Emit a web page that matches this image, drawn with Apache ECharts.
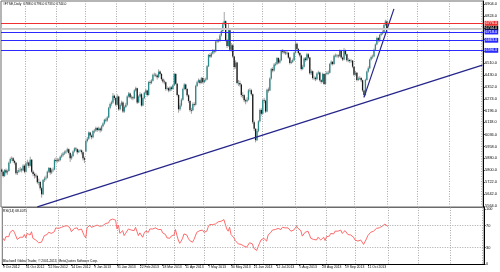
<!DOCTYPE html>
<html>
<head>
<meta charset="utf-8">
<script src="https://cdn.jsdelivr.net/npm/echarts@6/dist/echarts.min.js"></script>
<style>
html,body{margin:0;padding:0;background:#fff;}
#chart{width:500px;height:272px;}
</style>
</head>
<body>
<div id="chart"></div>
<script>
// ---- data (FTSE daily, 9 Oct 2012 - 31 Oct 2013) ----
const opens = [5805,5790,5762,5800,5785,5795,5850,5875,5880,5862,
5850,5780,5790,5800,5805,5800,5830,5790,5845,5852,
5830,5870,5790,5775,5765,5762,5720,5722,5680,5640,
5735,5745,5750,5790,5815,5785,5800,5805,5868,5862,
5870,5868,5890,5900,5912,5918,5925,5940,5915,5880,
5895,5925,5945,5940,5920,5930,5932,5920,5880,5925,
5995,6010,6050,6030,6020,6060,6062,6080,6068,6078,
6065,6092,6110,6135,6130,6150,6215,6240,6250,6295,
6280,6235,6290,6205,6235,6250,6190,6220,6235,6290,
6310,6285,6285,6278,6330,6345,6250,6290,6305,6230,
6280,6315,6330,6300,6385,6380,6395,6435,6435,6430,
6418,6455,6440,6405,6390,6385,6340,6345,6330,6350,
6340,6365,6440,6375,6300,6205,6230,6268,6340,6370,
6340,6298,6260,6200,6198,6240,6235,6360,6385,6398,
6380,6412,6385,6400,6402,6490,6565,6555,6575,6595,
6588,6655,6662,6660,6695,6725,6770,6790,6665,6625,
6730,6600,6630,6555,6485,6515,6380,6380,6370,6300,
6298,6265,6258,6268,6330,6332,6305,6118,6075,6000,
6060,6125,6200,6175,6265,6262,6190,6335,6330,6410,
6472,6462,6502,6505,6545,6515,6530,6592,6588,6582,
6578,6580,6548,6512,6520,6530,6580,6640,6605,6578,
6562,6472,6488,6542,6532,6570,6548,6445,6458,6412,
6414,6405,6442,6450,6398,6388,6440,6372,6440,6448,
6448,6505,6520,6505,6560,6562,6562,6558,6595,6548,
6535,6598,6570,6530,6532,6525,6528,6488,6435,6447,
6400,6410,6413,6398,6330,6300,6400,6455,6478,6535,
6552,6555,6600,6635,6678,6658,6698,6708,6715,6765,
6788];
const highs = [5815,5798,5808,5812,5805,5858,5885,5892,5888,5870,
5855,5802,5815,5822,5815,5840,5838,5855,5870,5858,
5890,5875,5800,5785,5780,5770,5745,5730,5690,5742,
5758,5765,5798,5822,5820,5812,5818,5878,5885,5882,
5880,5898,5912,5922,5930,5935,5950,5945,5920,5905,
5932,5952,5955,5945,5938,5940,5938,5925,5890,6002,
6022,6058,6055,6038,6068,6075,6090,6088,6090,6085,
6100,6118,6142,6148,6160,6222,6250,6262,6313,6302,
6285,6305,6295,6245,6262,6258,6230,6248,6298,6320,
6315,6298,6292,6338,6355,6348,6298,6318,6312,6288,
6322,6342,6335,6392,6398,6405,6442,6448,6445,6438,
6470,6462,6445,6415,6402,6390,6358,6352,6360,6358,
6372,6448,6445,6380,6305,6245,6278,6348,6378,6375,
6345,6305,6265,6215,6250,6252,6368,6395,6410,6405,
6420,6418,6410,6415,6498,6572,6578,6585,6605,6602,
6662,6675,6672,6705,6735,6782,6851,6795,6672,6778,
6735,6645,6638,6560,6530,6520,6400,6395,6375,6318,
6305,6275,6285,6340,6345,6340,6310,6130,6080,6075,
6132,6210,6212,6272,6280,6268,6342,6350,6418,6480,
6485,6512,6518,6552,6550,6540,6600,6605,6598,6592,
6592,6585,6555,6532,6542,6588,6665,6648,6612,6585,
6568,6500,6550,6552,6580,6578,6552,6470,6462,6428,
6422,6450,6462,6455,6405,6448,6445,6448,6458,6462,
6512,6530,6525,6568,6575,6572,6570,6602,6600,6555,
6612,6602,6575,6545,6540,6538,6532,6492,6460,6452,
6422,6425,6420,6402,6335,6408,6462,6490,6542,6562,
6568,6608,6642,6688,6685,6705,6718,6728,6772,6800,
6796];
const lows = [5775,5752,5755,5772,5770,5790,5842,5862,5850,5838,
5770,5768,5782,5790,5785,5795,5780,5785,5830,5815,
5825,5782,5760,5745,5748,5710,5700,5665,5618,5635,
5722,5732,5745,5782,5770,5775,5788,5800,5850,5850,
5855,5860,5882,5890,5902,5908,5918,5905,5855,5870,
5888,5918,5928,5905,5915,5920,5905,5865,5848,5920,
5985,6002,6018,6005,6012,6045,6055,6055,6060,6050,
6058,6085,6102,6118,6122,6145,6205,6228,6242,6265,
6225,6230,6195,6198,6225,6180,6182,6212,6228,6282,
6275,6270,6265,6272,6322,6240,6245,6282,6222,6225,
6272,6305,6288,6295,6368,6372,6390,6422,6418,6402,
6412,6430,6395,6378,6370,6328,6330,6318,6322,6328,
6335,6360,6368,6290,6182,6195,6222,6262,6332,6330,
6288,6248,6188,6175,6192,6222,6230,6352,6378,6370,
6375,6375,6378,6388,6398,6485,6545,6548,6568,6575,
6582,6645,6648,6652,6688,6718,6762,6655,6612,6620,
6590,6588,6545,6470,6475,6370,6360,6355,6285,6278,
6252,6238,6250,6262,6318,6295,6108,6060,5985,5995,
6052,6118,6162,6170,6245,6180,6185,6315,6325,6402,
6450,6455,6490,6498,6505,6508,6525,6575,6570,6565,
6568,6540,6502,6505,6512,6525,6575,6595,6568,6550,
6462,6465,6482,6520,6525,6538,6435,6432,6402,6398,
6392,6398,6435,6388,6375,6382,6365,6368,6432,6435,
6442,6498,6495,6500,6550,6548,6545,6552,6540,6525,
6530,6560,6520,6518,6512,6515,6478,6425,6428,6390,
6392,6400,6385,6320,6284,6295,6395,6448,6472,6528,
6540,6550,6595,6630,6648,6652,6690,6700,6710,6758,
6733];
const closes = [5790,5762,5800,5785,5795,5850,5875,5880,5862,5850,
5780,5790,5800,5805,5800,5830,5790,5845,5852,5830,
5870,5790,5775,5765,5762,5720,5722,5680,5640,5735,
5745,5750,5790,5815,5785,5800,5805,5868,5862,5870,
5868,5890,5900,5912,5918,5925,5940,5915,5880,5895,
5925,5945,5940,5920,5930,5932,5920,5880,5870,5995,
6010,6050,6030,6020,6060,6062,6080,6068,6078,6065,
6092,6110,6135,6130,6150,6215,6240,6250,6295,6280,
6235,6290,6205,6235,6250,6190,6220,6235,6290,6310,
6285,6285,6278,6330,6345,6250,6290,6305,6230,6280,
6315,6330,6300,6385,6380,6395,6435,6435,6430,6418,
6455,6440,6405,6390,6385,6340,6345,6330,6350,6340,
6365,6440,6375,6300,6205,6230,6268,6340,6370,6340,
6298,6260,6200,6198,6240,6235,6360,6385,6398,6380,
6412,6385,6400,6402,6490,6565,6555,6575,6595,6588,
6655,6662,6660,6695,6725,6770,6790,6665,6625,6730,
6600,6630,6555,6485,6515,6380,6380,6370,6300,6298,
6265,6258,6268,6330,6332,6305,6118,6075,6000,6060,
6125,6200,6175,6265,6262,6190,6335,6330,6410,6472,
6462,6502,6505,6545,6515,6530,6592,6588,6582,6578,
6580,6548,6512,6520,6530,6580,6640,6605,6578,6562,
6472,6488,6542,6532,6570,6548,6445,6458,6412,6414,
6405,6442,6450,6398,6388,6440,6372,6440,6448,6448,
6505,6520,6505,6560,6562,6562,6558,6595,6548,6535,
6598,6570,6530,6532,6525,6528,6488,6435,6447,6400,
6410,6413,6398,6330,6300,6400,6455,6478,6535,6552,
6555,6600,6635,6678,6658,6698,6708,6715,6765,6788,
6744];
const rsi14 = [47,43,50,48,50,58,61,62,58,56,
45,47,49,50,49,54,48,56,57,53,
59,47,45,44,44,39,40,40,37,52,
53,54,58,61,56,58,59,66,65,65,
65,67,68,69,69,70,71,66,59,61,
65,67,66,62,63,64,61,52,48,66,
68,71,67,65,69,69,71,68,69,66,
70,72,74,73,75,80,81,82,84,80,
64,71,56,59,61,52,56,58,64,66,
62,62,61,67,68,52,57,59,49,56,
60,62,58,64,63,64,66,66,65,63,
66,63,57,55,54,48,49,47,51,49,
53,63,53,44,38,42,47,55,58,53,
47,43,40,40,45,44,58,60,61,58,
62,58,60,60,68,72,71,72,74,73,
76,77,76,78,79,81,80,64,60,67,
54,56,48,43,46,37,37,36,33,33,
31,31,33,39,39,37,29,27,25,32,
38,44,42,47,47,42,53,53,58,62,
61,63,63,65,62,63,67,67,66,66,
66,63,60,61,62,65,69,65,62,61,
51,53,58,57,60,57,47,49,45,45,
44,49,50,44,43,49,43,50,51,51,
56,57,55,60,60,60,59,62,56,55,
61,58,54,54,53,53,49,44,46,42,
43,44,42,36,33,46,52,54,58,60,
60,63,65,68,66,69,69,70,73,74,
68.41];

const timeLabels = ['9 Oct 2012','31 Oct 2012','22 Nov 2012','14 Dec 2012','9 Jan 2013','31 Jan 2013','22 Feb 2013','18 Mar 2013','11 Apr 2013','7 May 2013','30 May 2013','21 Jun 2013','12 Jul 2013','5 Aug 2013','28 Aug 2013','19 Sep 2013','11 Oct 2013'];
const priceTicks = [6904,6824,6746,6668,6590,6510,6430,6352,6274,6196,6118,6036,5958,5880,5800,5722,5642,5564];
const rsiTicks = [0,30,70,100];
const redLevels = [6776];
const blueLevels = [6718,6663,6596];
const bidLevel = 6744;
const askLevel = 6736;
const trendLong = [[25,5557],[337,6498]];
const trendShort = [[254,6284],[275,6872]];
const holidays = ['2012-12-25','2013-01-01','2013-03-29','2013-04-01','2013-05-06','2013-05-27','2013-08-26'];
const titleText = '#FTSE,Daily  6788.0 6796.0 6733.0 6744.0';
const rsiTitle = 'RSI(14) 68.4075';
const copyright = 'Blackwell Global Trader, \u00A9 2001-2013, MetaQuotes Software Corp.';

// ---- trading-day categories (data + empty right shift) ----
const TOTAL = 338;
const dates = [];
{
  let t = Date.UTC(2012, 9, 9);
  while (dates.length < TOTAL) {
    const d = new Date(t);
    const s = d.toISOString().slice(0, 10);
    const wd = d.getUTCDay();
    if (wd !== 0 && wd !== 6 && holidays.indexOf(s) < 0) dates.push(s);
    t += 86400000;
  }
}
const monthStart = dates.map((s, i) => i > 0 && s.slice(0, 7) !== dates[i - 1].slice(0, 7));
const labelShow = (i) => i % 16 === 0 && i / 16 < timeLabels.length;

const FONT = 'Liberation Sans, Arial, sans-serif';
const candleData = closes.map((c, i) => [i, opens[i], c, lows[i], highs[i]]);

const levelLine = (v, color, tagBg) => ({
  yAxis: v,
  lineStyle: { color: color, width: 1, type: 'solid' },
  label: tagBg ? {
    show: true, position: 'end', formatter: (p) => Number(p.value).toFixed(1),
    color: '#fff', backgroundColor: tagBg, fontSize: 3.8, fontFamily: FONT,
    padding: [0.6, 1, 0.2, 1], distance: 1.5
  } : { show: false }
});

const gridLineStyle = { color: '#a8a8a8', type: [1, 1.5], width: 1 };

const chart = echarts.init(document.getElementById('chart'), null, { renderer: 'canvas' });
chart.setOption({
  animation: false,
  backgroundColor: '#fff',
  textStyle: { fontFamily: FONT },
  grid: [
    { left: 1, top: 1, width: 483, height: 206, show: true, borderColor: '#6a6a6a', borderWidth: 1, backgroundColor: '#fff' },
    { left: 1, top: 207.5, width: 483, height: 57, show: true, borderColor: '#6a6a6a', borderWidth: 1, backgroundColor: '#fff' }
  ],
  xAxis: [
    { type: 'category', gridIndex: 0, data: dates, boundaryGap: true,
      axisLine: { show: false }, axisTick: { show: false }, axisLabel: { show: false },
      splitLine: { show: true, interval: (i) => monthStart[i], lineStyle: gridLineStyle } },
    { type: 'category', gridIndex: 1, data: dates, boundaryGap: true,
      axisLine: { show: true, lineStyle: { color: '#000', width: 1 } },
      axisTick: { show: true, interval: labelShow, alignWithLabel: true, length: 1.5, lineStyle: { color: '#000' } },
      axisLabel: { show: true, interval: labelShow, formatter: (v, i) => timeLabels[i / 16],
        fontSize: 3.4, color: '#000', align: 'left', margin: 1.5, fontFamily: FONT },
      splitLine: { show: true, interval: (i) => monthStart[i], lineStyle: gridLineStyle } }
  ],
  yAxis: [
    { type: 'value', gridIndex: 0, position: 'right', min: 5556, max: 6924,
      axisLine: { show: true, lineStyle: { color: '#000', width: 1 } },
      axisTick: { show: true, customValues: priceTicks, length: 1.5, lineStyle: { color: '#000' } },
      axisLabel: { show: true, customValues: priceTicks, formatter: (v) => Number(v).toFixed(1),
        fontSize: 3.9, color: '#000', margin: 2, fontFamily: FONT },
      splitLine: { show: false } },
    { type: 'value', gridIndex: 1, position: 'right', min: -0.5, max: 103,
      axisLine: { show: true, lineStyle: { color: '#000', width: 1 } },
      axisTick: { show: true, customValues: rsiTicks, length: 1.5, lineStyle: { color: '#000' } },
      axisLabel: { show: true, customValues: rsiTicks, formatter: (v) => String(Math.round(v)),
        fontSize: 3.9, color: '#000', margin: 2, fontFamily: FONT },
      splitLine: { show: false } }
  ],
  series: [
    { type: 'custom', name: 'FTSE', xAxisIndex: 0, yAxisIndex: 0, clip: true,
      data: candleData, encode: { x: 0, y: [1, 2, 3, 4] },
      renderItem: function (params, api) {
        const i = api.value(0), o = api.value(1), c = api.value(2), l = api.value(3), h = api.value(4);
        const pO = api.coord([i, o]), pC = api.coord([i, c]);
        const pL = api.coord([i, l]), pH = api.coord([i, h]);
        const x = pO[0], bw = 1.3;
        const top = Math.min(pO[1], pC[1]), bot = Math.max(pO[1], pC[1]);
        return { type: 'group', children: [
          { type: 'line', shape: { x1: x, y1: pH[1], x2: x, y2: pL[1] }, style: { stroke: '#a4a4a4', lineWidth: 1 } },
          { type: 'rect', shape: { x: x - bw / 2, y: top, width: bw, height: Math.max(bot - top, 0.7) },
            style: { fill: c >= o ? '#2a8a8a' : '#1a1a1a' } }
        ] };
      } },
    { type: 'line', name: 'trendLong', xAxisIndex: 0, yAxisIndex: 0, data: trendLong, clip: false,
      symbol: 'none', lineStyle: { color: '#25258a', width: 1.2 }, silent: true, z: 3,
      markLine: { symbol: 'none', silent: true, animation: false,
        data: [levelLine(askLevel, '#cfcfcf', null), levelLine(bidLevel, '#c4c4c4', '#000')]
          .concat(redLevels.map(v => levelLine(v, '#f03030', '#f03030')))
          .concat(blueLevels.map(v => levelLine(v, '#2a2aff', '#2a2aff'))) } },
    { type: 'line', name: 'trendShort', xAxisIndex: 0, yAxisIndex: 0, data: trendShort, clip: false,
      symbol: 'none', lineStyle: { color: '#25258a', width: 1.2 }, silent: true, z: 3 },
    { type: 'line', name: 'RSI', xAxisIndex: 1, yAxisIndex: 1, data: rsi14, symbol: 'none',
      lineStyle: { color: '#ff5a5a', width: 0.9 }, silent: true,
      markLine: { symbol: 'none', silent: true, animation: false, label: { show: false },
        lineStyle: gridLineStyle, data: [{ yAxis: 30 }, { yAxis: 70 }] } }
  ],
  graphic: [
    { type: 'text', left: 3, top: 2.5, style: { text: titleText, fontSize: 3.3, fill: '#000', fontFamily: FONT } },
    { type: 'text', left: 3, top: 209.5, style: { text: rsiTitle, fontSize: 3.3, fill: '#000', fontFamily: FONT } },
    { type: 'text', left: 3, top: 260, style: { text: copyright, fontSize: 3.2, fill: '#000', fontFamily: FONT } }
  ]
});
</script>
</body>
</html>
